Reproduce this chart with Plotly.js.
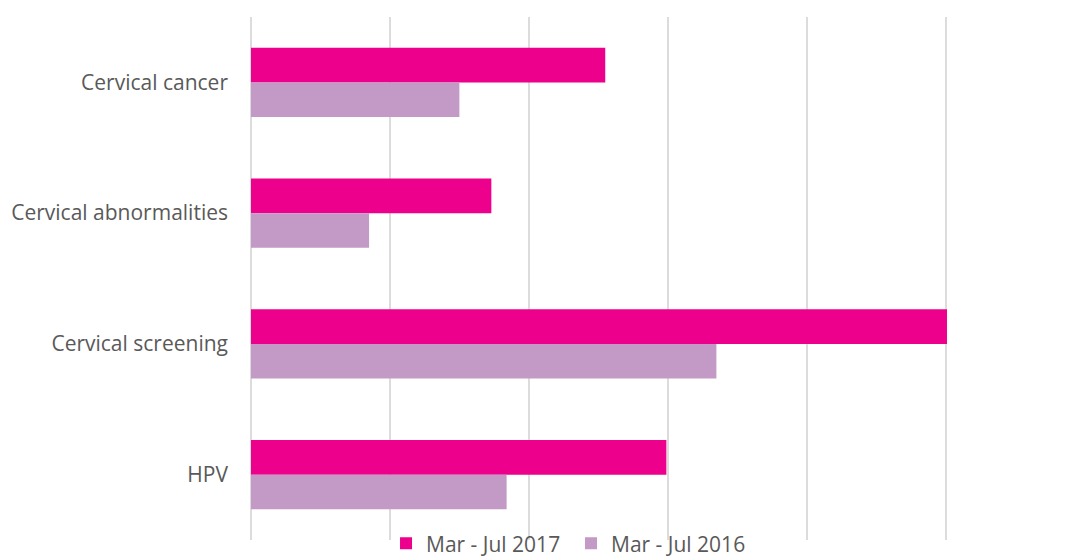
<!DOCTYPE html>
<html>
<head>
<meta charset="utf-8">
<script src="https://cdn.plot.ly/plotly-3.0.1.min.js"></script>
<style>
  html, body { margin: 0; padding: 0; background: #fff; }
  #chart { width: 1076px; height: 557px; }
</style>
</head>
<body>
<div id="chart"></div>
<script>
// Data (axis has no labels, units are relative)
const categories = ["Cervical cancer", "Cervical abnormalities", "Cervical screening", "HPV"];
const series2017 = [2.55, 1.73, 5.01, 2.99];
const series2016 = [1.50, 0.85, 3.35, 1.84];
const seriesNames = ["Mar - Jul 2017", "Mar - Jul 2016"];

const PINK = "#EC008C";
const LILAC = "#C399C6";
const TEXT = "#595959";
const GRID = "#dcdcdc";

const traces = [
    {
        type: "bar",
        orientation: "h",
        name: seriesNames[0],
        y: categories,
        x: series2017,
        marker: { color: PINK },
        hoverinfo: "x+name",
    },
    {
        type: "bar",
        orientation: "h",
        name: seriesNames[1],
        y: categories,
        x: series2016,
        marker: { color: LILAC },
        hoverinfo: "x+name",
    },
];

// autoexpand off so the legend can hang into the thin bottom margin
const layout = {
    width: 1076,
    height: 557,
    margin: { l: 251, r: 129, t: 17, b: 17, autoexpand: false },
    paper_bgcolor: "#fff",
    plot_bgcolor: "#fff",
    font: { family: "Open Sans, sans-serif", size: 21, color: TEXT },
    barmode: "group",
    bargap: 0.47,
    bargroupgap: 0,
    xaxis: {
        range: [0, 5.01],
        dtick: 1,
        showticklabels: false,
        showgrid: true,
        gridcolor: GRID,
        gridwidth: 2,
        zeroline: true,
        zerolinecolor: GRID,
        zerolinewidth: 2,
        showline: false,
        fixedrange: true,
    },
    yaxis: {
        autorange: "reversed",
        showgrid: false,
        zeroline: false,
        showline: false,
        ticks: "",
        ticklabelstandoff: 22,
        tickfont: { size: 21, color: TEXT },
        fixedrange: true,
    },
    showlegend: true,
    legend: {
        orientation: "h",
        x: 0.194,
        xanchor: "left",
        y: -0.007,
        yanchor: "middle",
        font: { size: 21, color: TEXT },
        itemwidth: 30,
        entrywidth: 140,
        bgcolor: "rgba(0,0,0,0)",
    },
};

Plotly.newPlot("chart", traces, layout, { displayModeBar: false, staticPlot: true });
</script>
</body>
</html>
